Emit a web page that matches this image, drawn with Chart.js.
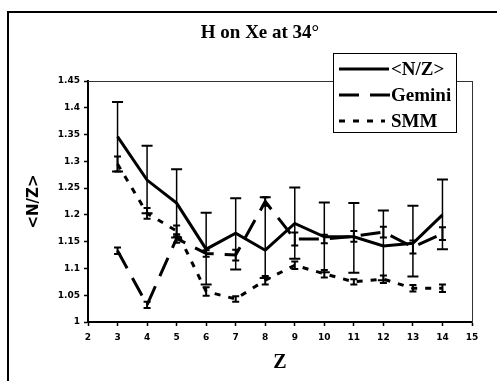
<!DOCTYPE html>
<html>
<head>
<meta charset="utf-8">
<script src="https://cdn.jsdelivr.net/npm/chart.js@4.4.1/dist/chart.umd.min.js"></script>
<style>
body { margin: 0; background: #fff; }
#wrap { position: relative; width: 497px; height: 381px; overflow: hidden; }
#frame { position: absolute; left: 7px; top: 11px; width: 490px; height: 380px; border-top: 2px solid #000; border-left: 2px solid #000; pointer-events: none; }
#title { position: absolute; left: 0; top: 20px; width: 520px; text-align: center; font: bold 19px "Liberation Serif", serif; line-height: 24px; }
#legend { position: absolute; left: 333px; top: 53px; width: 122px; height: 78px; background: #fff; border: 1px solid #000; }
#legend .row { position: absolute; left: 0; height: 26px; width: 122px; }
#legend svg { position: absolute; left: 5px; top: 0; }
#legend span { position: absolute; left: 57px; top: 1px; font: bold 19px "Liberation Serif", serif; line-height: 24px; }
</style>
</head>
<body>
<div id="wrap">
  <canvas id="chart" width="497" height="381"></canvas>
  <div id="frame"></div>
  <div id="title">H on Xe at 34°</div>
  <div id="legend">
    <div class="row" style="top:2px"><svg width="52" height="26"><line x1="0" y1="13" x2="50" y2="13" stroke="#000" stroke-width="3"/></svg><span>&lt;N/Z&gt;</span></div>
    <div class="row" style="top:28px"><svg width="52" height="26"><line x1="0" y1="13" x2="52" y2="13" stroke="#000" stroke-width="3" stroke-dasharray="20 11"/></svg><span>Gemini</span></div>
    <div class="row" style="top:54px"><svg width="52" height="26"><line x1="0" y1="13" x2="46" y2="13" stroke="#000" stroke-width="3" stroke-dasharray="6 8"/></svg><span>SMM</span></div>
  </div>
</div>
<script>
const zValues = [3, 4, 5, 6, 7, 8, 9, 10, 11, 12, 13, 14];
const nzMean = [1.346, 1.265, 1.222, 1.136, 1.166, 1.134, 1.184, 1.159, 1.159, 1.142, 1.147, 1.2];
const nzHigh = [1.411, 1.329, 1.285, 1.204, 1.231, 1.233, 1.251, 1.223, 1.222, 1.208, 1.217, 1.266];
const nzLow = [1.281, 1.203, 1.158, 1.07, 1.098, 1.082, 1.118, 1.093, 1.092, 1.078, 1.085, 1.136];
const gemini = [1.133, 1.032, 1.156, 1.128, 1.125, 1.225, 1.155, 1.155, 1.16, 1.168, 1.14, 1.165];
const geminiErr = [0.006, 0.006, 0.008, 0.006, 0.01, 0.008, 0.012, 0.008, 0.01, 0.01, 0.012, 0.012];
const smm = [1.295, 1.203, 1.17, 1.057, 1.043, 1.078, 1.106, 1.09, 1.075, 1.08, 1.063, 1.063];
const smmErr = [0.014, 0.01, 0.01, 0.008, 0.005, 0.008, 0.007, 0.007, 0.005, 0.007, 0.006, 0.007];
const xTicks = [2, 15];
const yTicks = [1, 1.45];

const pts = vals => zValues.map((z, i) => ({ x: z, y: vals[i] }));

// vertical error bars with caps, drawn over the lines
const errorBars = {
    id: 'errorBars',
    afterDatasetsDraw(chart) {
        const { ctx, scales: { x, y } } = chart;
        ctx.save();
        ctx.strokeStyle = '#000';
        chart.data.datasets.forEach(ds => {
            if (!ds.errLow) return;
            ds.data.forEach((p, i) => {
                const px = x.getPixelForValue(p.x);
                const top = y.getPixelForValue(ds.errHigh[i]);
                const bot = y.getPixelForValue(ds.errLow[i]);
                ctx.lineWidth = ds.errLine;
                ctx.beginPath();
                ctx.moveTo(px, top);
                ctx.lineTo(px, bot);
                ctx.stroke();
                ctx.lineWidth = 2;
                ctx.beginPath();
                ctx.moveTo(px - ds.capHalf, top);
                ctx.lineTo(px + ds.capHalf, top);
                ctx.moveTo(px - ds.capHalf, bot);
                ctx.lineTo(px + ds.capHalf, bot);
                ctx.stroke();
            });
        });
        ctx.restore();
    }
};

Chart.defaults.color = '#000';
const tickFont = { family: 'DejaVu Sans', weight: 'bold', size: 9 };

new Chart(document.getElementById('chart'), {
    type: 'line',
    data: {
        datasets: [
            {
                label: '<N/Z>', data: pts(nzMean), borderColor: '#000', borderWidth: 3,
                pointRadius: 0, tension: 0, fill: false,
                errHigh: nzHigh, errLow: nzLow, errLine: 1.5, capHalf: 5.5
            },
            {
                label: 'Gemini', data: pts(gemini), borderColor: '#000', borderWidth: 3, borderDash: [20, 11],
                pointRadius: 0, tension: 0, fill: false,
                errHigh: gemini.map((v, i) => v + geminiErr[i]), errLow: gemini.map((v, i) => v - geminiErr[i]),
                errLine: 2, capHalf: 3.5
            },
            {
                label: 'SMM', data: pts(smm), borderColor: '#000', borderWidth: 3, borderDash: [6, 8],
                pointRadius: 0, tension: 0, fill: false,
                errHigh: smm.map((v, i) => v + smmErr[i]), errLow: smm.map((v, i) => v - smmErr[i]),
                errLine: 2, capHalf: 3.5
            }
        ]
    },
    options: {
        responsive: false,
        animation: false,
        devicePixelRatio: 1,
        layout: { padding: 0 },
        plugins: { legend: { display: false }, tooltip: { enabled: false } },
        scales: {
            x: {
                type: 'linear', position: 'bottom', min: xTicks[0], max: xTicks[1],
                afterFit: s => { s.height = 59; },
                ticks: { stepSize: 1, autoSkip: false, font: tickFont, padding: 6, maxRotation: 0 },
                grid: { drawOnChartArea: false, tickLength: 4, color: '#000', tickWidth: 1.5 },
                border: { color: '#000', width: 2 },
                title: { display: true, text: 'Z', font: { family: 'Liberation Serif', weight: 'bold', size: 20 }, padding: { top: 0, bottom: 6 } }
            },
            y: {
                position: 'left', min: yTicks[0], max: yTicks[1],
                afterFit: s => { s.width = 88; },
                ticks: { stepSize: 0.05, autoSkip: false, font: tickFont, padding: 4, callback: v => String(+v.toFixed(2)) },
                grid: { drawOnChartArea: false, tickLength: 4, color: '#000', tickWidth: 1.5 },
                border: { color: '#000', width: 2 },
                title: { display: true, text: '<N/Z>', font: { family: 'DejaVu Sans', weight: 'bold', size: 15 }, padding: { top: 25, bottom: 0 } }
            },
            x2: {
                type: 'linear', position: 'top', min: xTicks[0], max: xTicks[1],
                afterFit: s => { s.height = 81; },
                ticks: { display: false }, grid: { display: false },
                border: { color: '#333', width: 1 }
            },
            y2: {
                position: 'right', min: yTicks[0], max: yTicks[1],
                afterFit: s => { s.width = 25; },
                ticks: { display: false }, grid: { display: false },
                border: { color: '#333', width: 1 }
            }
        }
    },
    plugins: [errorBars]
});
</script>
</body>
</html>
